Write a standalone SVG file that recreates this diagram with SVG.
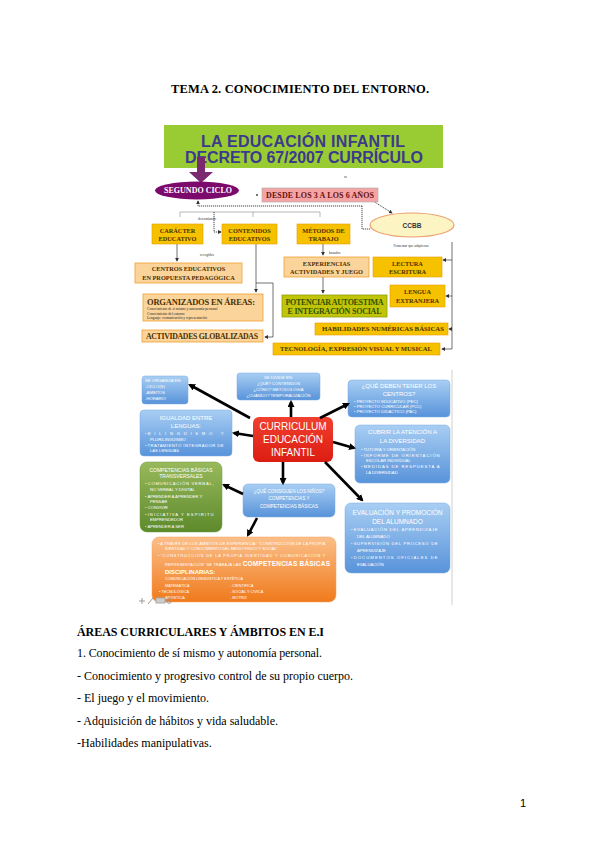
<svg xmlns="http://www.w3.org/2000/svg" width="600" height="848" viewBox="0 0 600 848">
<defs>
<linearGradient id="gBlue" x1="0" y1="0" x2="0" y2="1"><stop offset="0" stop-color="#a8cef3"/><stop offset="1" stop-color="#5893da"/></linearGradient>
<linearGradient id="gRed" x1="0" y1="0" x2="0" y2="1"><stop offset="0" stop-color="#f0402f"/><stop offset="1" stop-color="#dc1c12"/></linearGradient>
<linearGradient id="gGreen" x1="0" y1="0" x2="0" y2="1"><stop offset="0" stop-color="#98b95c"/><stop offset="1" stop-color="#5d8a2b"/></linearGradient>
<linearGradient id="gOrange" x1="0" y1="0" x2="0" y2="1"><stop offset="0" stop-color="#fbbf88"/><stop offset="1" stop-color="#f07a1c"/></linearGradient>
<marker id="ah" viewBox="0 0 10 10" refX="7" refY="5" markerWidth="7" markerHeight="7" markerUnits="userSpaceOnUse" orient="auto"><path d="M0,0 L10,5 L0,10 z" fill="#000"/></marker>
<marker id="ahs" viewBox="0 0 10 10" refX="8" refY="5" markerWidth="4" markerHeight="4" markerUnits="userSpaceOnUse" orient="auto"><path d="M0,0 L10,5 L0,10 z" fill="#333"/></marker>
</defs>
<style>
.doc{font-family:"Liberation Serif","Times New Roman",serif;fill:#000}
.yb{fill:#f6c200;stroke:#e89a00;stroke-width:0.6}
.pb{fill:#fbd49c;stroke:#f0a030;stroke-width:0.8}
.bt{font-family:"Liberation Serif","Times New Roman",serif;font-weight:bold;font-size:6.3px;fill:#4a3000;text-anchor:middle}
.tiny{font-family:"Liberation Serif","Times New Roman",serif;font-size:3.6px;fill:#333}
.blue{fill:url(#gBlue);stroke:#7aaae0;stroke-width:0.5}
.wt{font-family:"Liberation Sans",Arial,sans-serif;fill:#fff;font-size:4.2px}
.wtt{font-family:"Liberation Sans",Arial,sans-serif;fill:#fff;font-size:6px;text-anchor:middle}
.arr{stroke:#000;stroke-width:2.6;fill:none;marker-end:url(#ah)}
.thin{stroke:#333;stroke-width:0.7;fill:none}
.dot{stroke:#333;stroke-width:0.9;stroke-dasharray:1.2 0.8;fill:none}
</style>
<rect width="600" height="848" fill="#fff"/>

<g id="page-text" class="doc">
<text x="300" y="93" text-anchor="middle" font-size="12.5" font-weight="bold" textLength="258">TEMA 2. CONOCIMIENTO DEL ENTORNO.</text>
<text x="77" y="636" font-size="12" font-weight="bold" textLength="247">ÁREAS CURRICULARES Y ÁMBITOS EN E.I</text>
<text x="77" y="657" font-size="12" textLength="245">1. Conocimiento de sí mismo y autonomía personal.</text>
<text x="77" y="680" font-size="12" textLength="276">- Conocimiento y progresivo control de su propio cuerpo.</text>
<text x="77" y="702" font-size="12">- El juego y el movimiento.</text>
<text x="77" y="725" font-size="12">- Adquisición de hábitos y vida saludable.</text>
<text x="77" y="747" font-size="12">-Habilidades manipulativas.</text>
<text x="520" y="807" font-family="Liberation Sans, Arial, sans-serif" font-size="11">1</text>
</g>

<!-- ===== Image 1 ===== -->
<g id="connectors-top">
<path class="thin" d="M180,212 H320 M180,212 V217 M253,212 V217 M320,212 V217" style="stroke:#999"/>
<path class="dot" d="M362,206 H198 V201" marker-end="url(#ahs)"/>
<path class="dot" d="M362,206 V229 H370"/>
<path class="dot" d="M373,201 L392,213" marker-end="url(#ahs)"/>
<path class="dot" d="M214,212 V232 H221" marker-end="url(#ahs)"/>
<path class="thin" d="M177,244 V261" marker-end="url(#ahs)"/>
<path class="thin" d="M323,244 V255" marker-end="url(#ahs)"/>
<path class="thin" d="M323,277 V293" marker-end="url(#ahs)"/>
<path class="thin" d="M256,244 V292" marker-end="url(#ahs)"/>
<path class="thin" d="M256,283 H273 V337 H265" marker-end="url(#ahs)"/>
<path class="thin" d="M452,242 V349"/>
<path class="thin" d="M452,260 H443" marker-end="url(#ahs)"/>
<path class="thin" d="M452,296 H446" marker-end="url(#ahs)"/>
<path class="thin" d="M452,329 H449" marker-end="url(#ahs)"/>
<path class="thin" d="M452,349 H442" marker-end="url(#ahs)"/>
<circle cx="257" cy="195" r="0.9" fill="#333"/>
<path d="M344,177 H347" stroke="#555" stroke-width="0.8"/>
<text class="tiny" x="207" y="220" text-anchor="middle">determinado</text>
<text class="tiny" x="200" y="256">recogidos</text>
<text class="tiny" x="329" y="254">basados</text>
<text class="tiny" x="411" y="247" text-anchor="middle">Fomentar que adquieran</text>
</g>

<g id="n-titulo">
<rect x="164" y="125" width="279" height="43" fill="#99cc33"/>
<text x="303" y="147" text-anchor="middle" font-family="Liberation Sans, Arial, sans-serif" font-weight="bold" font-size="16" fill="#3b3a8c" textLength="204">LA EDUCACIÓN INFANTIL</text>
<text x="304" y="163" text-anchor="middle" font-family="Liberation Sans, Arial, sans-serif" font-weight="bold" font-size="16" fill="#3b3a8c" textLength="238">DECRETO 67/2007 CURRÍCULO</text>
<path d="M197,157 H205 V172 H213 L201,183 L189,172 H197 Z" fill="#7b2a70"/>
</g>
<g id="n-segundo-ciclo">
<ellipse cx="197" cy="190.5" rx="42" ry="9" fill="#7c0a6c"/>
<text x="198" y="193.3" text-anchor="middle" font-family="Liberation Serif, serif" font-weight="bold" font-size="8" fill="#fff" textLength="68">SEGUNDO CICLO</text>
</g>
<g id="n-desde">
<rect x="262" y="188" width="116" height="14" fill="#f4a4a4" stroke="#aaa" stroke-width="0.6"/>
<text x="320" y="197.8" text-anchor="middle" font-family="Liberation Serif, serif" font-weight="bold" font-size="8" fill="#6a1010" textLength="108">DESDE LOS 3 A LOS 6 AÑOS</text>
</g>
<g id="n-ccbb">
<ellipse cx="412" cy="225" rx="42" ry="12" fill="#fdf4c4" stroke="#eda070" stroke-width="1.2"/>
<text x="412" y="227.5" text-anchor="middle" font-family="Liberation Sans, Arial, sans-serif" font-weight="bold" font-size="6.5" fill="#333">CCBB</text>
</g>
<g id="n-caracter">
<rect class="yb" x="152" y="224" width="51" height="20"/>
<text class="bt" x="177.5" y="232.5">CARÁCTER</text><text class="bt" x="177.5" y="240.5">EDUCATIVO</text>
</g>
<g id="n-contenidos">
<rect class="yb" x="222" y="224" width="55" height="20"/>
<text class="bt" x="249.5" y="232.5">CONTENIDOS</text><text class="bt" x="249.5" y="240.5">EDUCATIVOS</text>
</g>
<g id="n-metodos">
<rect class="yb" x="297" y="224" width="53" height="20"/>
<text class="bt" x="323.5" y="232.5">MÉTODOS DE</text><text class="bt" x="323.5" y="240.5">TRABAJO</text>
</g>
<g id="n-centros">
<rect class="pb" x="135" y="263" width="107" height="20"/>
<text class="bt" x="188.5" y="271">CENTROS EDUCATIVOS</text><text class="bt" x="188.5" y="279.5">EN PROPUESTA PEDAGÓGICA</text>
</g>
<g id="n-experiencias">
<rect class="pb" x="284" y="257" width="85" height="20"/>
<text class="bt" x="326.5" y="265.5">EXPERIENCIAS</text><text class="bt" x="326.5" y="274">ACTIVIDADES Y JUEGO</text>
</g>
<g id="n-lectura">
<rect class="yb" x="373" y="257" width="69" height="20"/>
<text class="bt" x="407.5" y="265.5">LECTURA</text><text class="bt" x="407.5" y="274">ESCRITURA</text>
</g>
<g id="n-potenciar">
<rect x="282" y="295" width="105" height="22" fill="#c2c40a" stroke="#8ea000" stroke-width="0.8"/>
<text class="bt" x="334.5" y="304.8" style="font-size:8px;fill:#2f5200" textLength="98">POTENCIAR AUTOESTIMA</text>
<text class="bt" x="334.5" y="313.8" style="font-size:8px;fill:#2f5200" textLength="94">E INTEGRACIÓN SOCIAL</text>
</g>
<g id="n-lengua">
<rect class="yb" x="390" y="285" width="55" height="22"/>
<text class="bt" x="417.5" y="294">LENGUA</text><text class="bt" x="417.5" y="302.5">EXTRANJERA</text>
</g>
<g id="n-habilidades">
<rect class="yb" x="315" y="323" width="133" height="12"/>
<text class="bt" x="383" y="331.3" style="font-size:6.8px" textLength="122">HABILIDADES NUMÉRICAS BÁSICAS</text>
</g>
<g id="n-tecnologia">
<rect class="yb" x="273" y="343" width="167" height="12"/>
<text class="bt" x="356" y="351.3" style="font-size:6.6px" textLength="152">TECNOLOGÍA, EXPRESIÓN VISUAL Y MUSICAL</text>
</g>
<g id="n-organizados">
<rect class="pb" x="143" y="294" width="120" height="27"/>
<text class="bt" x="201" y="305.3" style="font-size:8.5px" textLength="108">ORGANIZADOS EN ÁREAS:</text>
<text class="tiny" x="147" y="310" style="fill:#222">Conocimiento de sí mismo y autonomía personal</text>
<text class="tiny" x="147" y="314.5" style="fill:#222">Conocimiento del entorno</text>
<text class="tiny" x="147" y="319" style="fill:#222">Lenguaje: comunicación y representación</text>
</g>
<g id="n-actividades">
<rect class="pb" x="142" y="330" width="121" height="12"/>
<text class="bt" x="202" y="338.8" style="font-size:7.8px" textLength="112">ACTIVIDADES GLOBALIZADAS</text>
</g>

<!-- ===== Image 2 ===== -->
<line x1="452" y1="370" x2="452" y2="605" stroke="#cfcfcf" stroke-width="1"/>

<g id="n-organiza">
<rect class="blue" x="142" y="376" width="46" height="28" rx="3"/>
<text class="wt" x="145" y="382">SE ORGANIZA EN:</text>
<text class="wt" x="145" y="388">-CICLO(S)</text>
<text class="wt" x="145" y="394">-ÁMBITOS</text>
<text class="wt" x="145" y="400">-HORARIO</text>
</g>
<g id="n-divide">
<rect class="blue" x="237" y="373" width="83" height="27" rx="3"/>
<text class="wt" x="278.5" y="379" text-anchor="middle">SE DIVIDE EN:</text>
<text class="wt" x="278.5" y="385" text-anchor="middle">¿QUÉ? CONTENIDOS</text>
<text class="wt" x="278.5" y="391" text-anchor="middle">¿CÓMO? METODOLOGÍA</text>
<text class="wt" x="278.5" y="397" text-anchor="middle">¿CUÁNDO? TEMPORALIZACIÓN</text>
</g>
<g id="n-centros2">
<rect class="blue" x="348" y="380" width="102" height="37" rx="4"/>
<text class="wtt" x="399" y="388">¿QUÉ DEBEN TENER LOS</text>
<text class="wtt" x="399" y="396">CENTROS?</text>
<text class="wt" x="354" y="403">•  PROYECTO EDUCATIVO (PEC)</text>
<text class="wt" x="354" y="408">•  PROYECTO CURRICULAR (PCC)</text>
<text class="wt" x="354" y="413">•  PROYECTO DIDÁCTICO (PAC)</text>
</g>
<g id="n-igualdad">
<rect class="blue" x="140" y="410" width="92" height="46" rx="4"/>
<text class="wtt" x="186" y="420">IGUALDAD ENTRE</text>
<text class="wtt" x="186" y="428">LENGUAS:</text>
<text class="wt" x="145" y="435">•  <tspan textLength="76">BILINGÜISMO Y</tspan></text>
<text class="wt" x="150" y="440.5">PLURILINGÜISMO</text>
<text class="wt" x="145" y="446.5">•  <tspan textLength="76">TRATAMIENTO INTEGRADOR DE</tspan></text>
<text class="wt" x="150" y="452">LAS LENGUAS</text>
</g>
<g id="n-curriculum">
<rect x="253" y="417" width="80" height="45" rx="6" fill="url(#gRed)"/>
<g font-family="Liberation Sans, Arial, sans-serif" font-size="10" fill="#fff" text-anchor="middle">
<text x="293" y="430">CURRICULUM</text>
<text x="293" y="443">EDUCACIÓN</text>
<text x="293" y="456">INFANTIL</text>
</g>
</g>
<g id="n-diversidad">
<rect class="blue" x="355" y="425" width="95" height="58" rx="5"/>
<text class="wtt" x="402.5" y="434">CUBRIR LA ATENCIÓN A</text>
<text class="wtt" x="402.5" y="442.5">LA DIVERSIDAD</text>
<text class="wt" x="361" y="451">•  TUTORÍA Y ORIENTACIÓN</text>
<text class="wt" x="361" y="456.5">•  <tspan textLength="76">INFORME DE ORIENTACIÓN</tspan></text>
<text class="wt" x="366" y="461.5">ESCOLAR INDIVIDUAL</text>
<text class="wt" x="361" y="468">•  <tspan textLength="76">MEDIDAS DE RESPUESTA A</tspan></text>
<text class="wt" x="366" y="473.5">LA DIVERSIDAD</text>
</g>
<g id="n-competencias-transversales">
<rect x="140" y="462" width="82" height="70" rx="7" fill="url(#gGreen)" stroke="#6e9838" stroke-width="0.5"/>
<text class="wtt" x="181" y="472" style="font-size:5px">COMPETENCIAS BÁSICAS</text>
<text class="wtt" x="181" y="478" style="font-size:5px">TRANSVERSALES</text>
<text class="wt" x="145" y="485">•  <tspan textLength="66">COMUNICACIÓN VERBAL,</tspan></text>
<text class="wt" x="150" y="491">NO VERBAL Y DIGITAL</text>
<text class="wt" x="145" y="497.5">•  APRENDER A APRENDER Y</text>
<text class="wt" x="150" y="503">PENSAR</text>
<text class="wt" x="145" y="509">•  CONVIVIR</text>
<text class="wt" x="145" y="515.5">•  <tspan textLength="66">INICIATIVA Y ESPÍRITU</tspan></text>
<text class="wt" x="150" y="521">EMPRENDEDOR</text>
<text class="wt" x="145" y="527.5">•  APRENDER A SER</text>
</g>
<g id="n-consiguen">
<rect class="blue" x="243" y="484" width="92" height="33" rx="5"/>
<text class="wt" x="289" y="493" text-anchor="middle" style="font-size:4.6px">¿QUÉ CONSIGUEN LOS NIÑOS?</text>
<text class="wt" x="289" y="500" text-anchor="middle" style="font-size:4.6px">COMPETENCIAS Y</text>
<text class="wt" x="289" y="508" text-anchor="middle" style="font-size:4.6px">COMPETENCIAS BÁSICAS</text>
</g>
<g id="n-evaluacion">
<rect class="blue" x="345" y="503" width="105" height="70" rx="6"/>
<text class="wtt" x="397.5" y="515" style="font-size:6.5px">EVALUACIÓN Y PROMOCIÓN</text>
<text class="wtt" x="397.5" y="524" style="font-size:6.5px">DEL ALUMNADO</text>
<text class="wt" x="351" y="531">•  <tspan textLength="84">EVALUACIÓN DEL APRENDIZAJE</tspan></text>
<text class="wt" x="357" y="537.5">DEL ALUMNADO</text>
<text class="wt" x="351" y="545">•  <tspan textLength="84">SUPERVISIÓN DEL PROCESO DE</tspan></text>
<text class="wt" x="357" y="551.5">APRENDIZAJE</text>
<text class="wt" x="351" y="559">•  <tspan textLength="84">DOCUMENTOS OFICIALES DE</tspan></text>
<text class="wt" x="357" y="565.5">EVALUACIÓN</text>
</g>
<g id="n-disciplinarias">
<rect x="152" y="537" width="184" height="65" rx="7" fill="url(#gOrange)" stroke="#f5a060" stroke-width="0.5"/>
<text class="wt" x="158" y="545" style="font-size:3.9px">•  <tspan textLength="165">A TRAVÉS DE LOS ÁMBITOS DE EXPERIENCIA: "CONSTRUCCIÓN DE LA PROPIA</tspan></text>
<text class="wt" x="165" y="550" style="font-size:3.9px">IDENTIDAD Y CONOCIMIENTO DEL MEDIO FÍSICO Y SOCIAL"</text>
<text class="wt" x="158" y="557" style="font-size:3.9px">•  <tspan textLength="165">"CONSTRUCCIÓN DE LA PROPIA IDENTIDAD Y COMUNICACIÓN Y</tspan></text>
<text class="wt" x="165" y="566" style="font-size:3.9px" textLength="165">REPRESENTACIÓN" SE TRABAJA LAS <tspan font-size="6.5" font-weight="bold">COMPETENCIAS BÁSICAS</tspan></text>
<text class="wt" x="165" y="574" style="font-size:6px;font-weight:bold">DISCIPLINARIAS:</text>
<text class="wt" x="165" y="580" style="font-size:3.8px">COMUNICACIÓN LINGÜÍSTICA Y ESTÉTICA</text>
<text class="wt" x="165" y="586.5" style="font-size:3.8px">MATEMÁTICA</text>
<text class="wt" x="230" y="586.5" style="font-size:3.8px">- CIENTÍFICA</text>
<text class="wt" x="159" y="592.5" style="font-size:3.8px">•  TECNOLÓGICA</text>
<text class="wt" x="230" y="592.5" style="font-size:3.8px">- SOCIAL Y CÍVICA</text>
<text class="wt" x="165" y="598.5" style="font-size:3.8px">ARTÍSTICA</text>
<text class="wt" x="230" y="598.5" style="font-size:3.8px">- MOTRIZ</text>
</g>

<g id="connectors-bottom">
<path class="arr" d="M250,418 L190,385"/>
<path class="arr" d="M291,417 L291,402"/>
<path class="arr" d="M320,418 L348,404"/>
<path class="arr" d="M253,436 L234,433"/>
<path class="arr" d="M333,442 L354,448"/>
<path class="arr" d="M283,462 L283,483"/>
<path class="arr" d="M325,462 L362,500"/>
<path class="arr" d="M243,494 L224,485"/>
<path class="arr" d="M257,518 L248,535"/>
</g>

<g id="viewer-icons" fill="none" stroke="#999" stroke-width="1">
<path d="M139,601 H145 M142,598 V604"/>
<path d="M148,604 L153,598"/>
<rect x="156" y="598" width="9" height="5" fill="#ccc" stroke="#aaa"/>
<circle cx="169" cy="601" r="2.3"/>
</g>
</svg>
